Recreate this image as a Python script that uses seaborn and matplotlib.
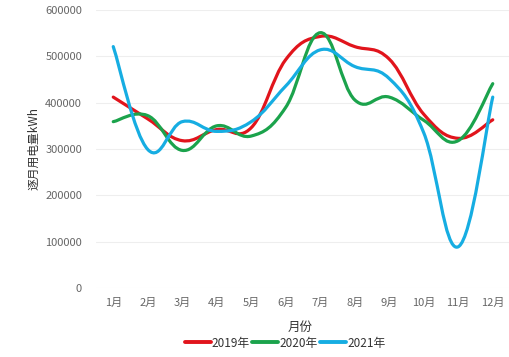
import numpy as np
import pandas as pd
import seaborn as sns
import matplotlib.pyplot as plt
from matplotlib.path import Path
from matplotlib.patches import PathPatch

# monthly electricity use
months = ['1月', '2月', '3月', '4月', '5月', '6月', '7月', '8月', '9月', '10月', '11月', '12月']
use_2019 = [412000, 365000, 318000, 342000, 346000, 493000, 543000, 521000, 494000, 375000, 323000, 363000]
use_2020 = [359000, 372000, 297000, 350000, 328000, 390000, 551000, 406000, 412000, 362000, 318000, 441000]
use_2021 = [521000, 299000, 359000, 338000, 359000, 436000, 514000, 478000, 452000, 335000, 89000, 412000]
series = {'2019年': use_2019, '2020年': use_2020, '2021年': use_2021}
colors = {'2019年': '#e1141c', '2020年': '#1ba34c', '2021年': '#16ade2'}

df = pd.DataFrame([(i, y, name) for name, vals in series.items() for i, y in enumerate(vals)],
                  columns=['month', 'value', 'year'])

sns.set_theme(style='white')
plt.rcParams['font.family'] = ['Noto Sans CJK SC', 'DejaVu Sans']

fig = plt.figure(figsize=(5.09, 3.57), dpi=100)
ax = fig.add_axes([96 / 509, 69 / 357, 414 / 509, 278 / 357])

# seaborn sets up scales and legend entries, smooth curves drawn on top
sns.lineplot(data=df, x='month', y='value', hue='year', palette=colors, linewidth=0, ax=ax)


def smooth_path(xs, ys, s=0.2):
    xs = np.asarray(xs, float)
    ys = np.asarray(ys, float)
    n = len(xs)
    verts = [(xs[0], ys[0])]
    codes = [Path.MOVETO]
    for i in range(n - 1):
        p0 = max(i - 1, 0)
        p3 = min(i + 2, n - 1)
        c1 = (xs[i] + (xs[i + 1] - xs[p0]) * s, ys[i] + (ys[i + 1] - ys[p0]) * s)
        c2 = (xs[i + 1] - (xs[p3] - xs[i]) * s, ys[i + 1] - (ys[p3] - ys[i]) * s)
        verts += [c1, c2, (xs[i + 1], ys[i + 1])]
        codes += [Path.CURVE4] * 3
    return Path(verts, codes)


for name, vals in series.items():
    patch = PathPatch(smooth_path(range(len(vals)), vals), facecolor='none',
                      edgecolor=colors[name], lw=2.3, capstyle='round', joinstyle='round')
    ax.add_patch(patch)

ax.set_xlim(-0.5, 11.5)
ax.set_ylim(0, 600000)
ax.set_yticks(range(0, 600001, 100000))
ax.set_xticks(range(12))
ax.set_xticklabels(months)
ax.yaxis.grid(True, color='#eeeeee', lw=0.8)
ax.xaxis.grid(False)
for sp in ax.spines.values():
    sp.set_visible(False)
ax.tick_params(axis='both', length=0, labelsize=8, colors='#666666')
ax.tick_params(axis='y', pad=10)
ax.tick_params(axis='x', pad=7)

ax.set_ylabel('逐月用电量kWh', fontsize=8.5, color='#333333')
ax.yaxis.set_label_coords(-0.135, 0.5)
ax.set_xlabel('月份', fontsize=9, color='#333333')
ax.xaxis.set_label_coords(0.493, -0.12)

handles, labels = ax.get_legend_handles_labels()
leg = ax.legend(handles, labels, loc='center', bbox_to_anchor=(285 / 509, 1 - 343 / 357),
                bbox_transform=fig.transFigure, ncol=3, frameon=False, fontsize=8.5,
                handlelength=2.2, handletextpad=0.1, columnspacing=0.2, borderaxespad=0)
for line in leg.get_lines():
    line.set_linewidth(2.8)
for t in leg.get_texts():
    t.set_color('#333333')

fig.savefig('out.png', dpi=100)
